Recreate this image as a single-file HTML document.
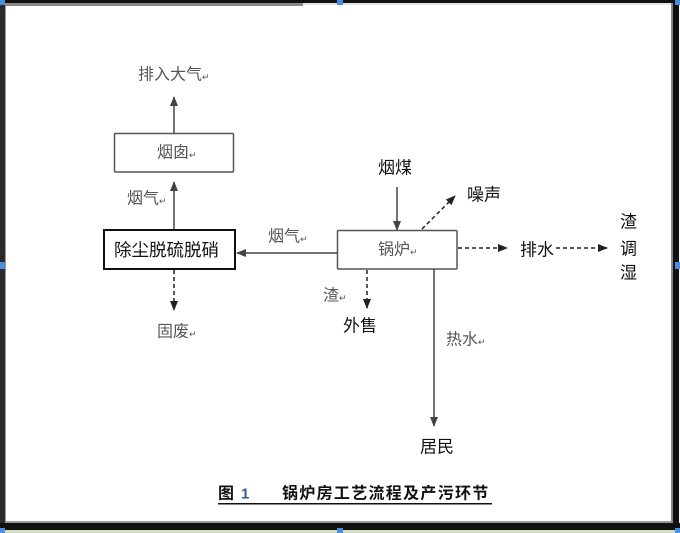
<!DOCTYPE html>
<html><head><meta charset="utf-8"><style>
html,body{margin:0;padding:0;background:#fff;}
svg{display:block;}
text{font-family:"Liberation Sans","Noto Sans CJK SC",sans-serif;}
</style></head><body>
<svg width="680" height="533" viewBox="0 0 680 533" xmlns="http://www.w3.org/2000/svg">
<defs>
<marker id="ah" markerWidth="10" markerHeight="8" refX="9" refY="4" orient="auto" markerUnits="userSpaceOnUse">
<path d="M0,0 L10,4 L0,8 Z" fill="#222"/>
</marker>
<marker id="ahg" markerWidth="10" markerHeight="8" refX="9" refY="4" orient="auto" markerUnits="userSpaceOnUse">
<path d="M0,0 L10,4 L0,8 Z" fill="#444"/>
</marker>
</defs>
<rect x="0" y="0" width="680" height="533" fill="#fff"/>
<!-- frame -->
<rect x="0" y="0" width="680" height="3" fill="#111"/>
<rect x="0" y="3" width="303" height="3" fill="#888"/>
<rect x="303" y="3" width="377" height="2" fill="#e4e4e4"/>
<rect x="0" y="0" width="5" height="530" fill="#2a2a2a"/>
<rect x="5" y="6" width="1" height="517" fill="#999"/>
<rect x="671" y="3" width="2" height="520" fill="#888"/>
<rect x="673" y="0" width="6" height="530" fill="#111"/>
<rect x="5" y="521" width="668" height="2" fill="#999"/>
<rect x="0" y="523" width="680" height="7" fill="#111"/>
<rect x="0" y="530" width="680" height="3" fill="#cfe3c0"/>
<!-- handles -->
<g fill="#4a8ee0">
<rect x="0" y="0" width="5" height="5"/>
<rect x="337" y="0" width="6" height="5"/>
<rect x="675" y="0" width="5" height="5"/>
<rect x="0" y="262" width="5" height="7"/>
<rect x="675" y="262" width="5" height="7"/>
<rect x="0" y="528" width="5" height="5"/>
<rect x="337" y="528" width="6" height="5"/>
<rect x="675" y="528" width="5" height="5"/>
</g>

<!-- boxes -->
<rect x="114.5" y="133.5" width="119" height="38.5" fill="#fff" stroke="#555" stroke-width="1.5" rx="1"/>
<rect x="104" y="230" width="131" height="39" fill="#fff" stroke="#111" stroke-width="2"/>
<rect x="337.5" y="230.5" width="119.5" height="38.5" fill="#fff" stroke="#555" stroke-width="1.5" rx="1"/>

<!-- connectors -->
<g stroke="#444" stroke-width="1.5" fill="none">
<line x1="174" y1="133" x2="174" y2="97" marker-end="url(#ahg)"/>
<line x1="174" y1="229" x2="174" y2="182" marker-end="url(#ahg)"/>
<line x1="337" y1="253" x2="237" y2="253" marker-end="url(#ahg)"/>
<line x1="397" y1="187" x2="397" y2="230" marker-end="url(#ahg)"/>
<line x1="434" y1="269" x2="434" y2="426" marker-end="url(#ahg)"/>
</g>
<g stroke="#222" stroke-width="1.5" fill="none" stroke-dasharray="4,3">
<line x1="174" y1="270" x2="174" y2="310" marker-end="url(#ah)"/>
<line x1="367" y1="270" x2="367" y2="308" marker-end="url(#ah)"/>
<line x1="422" y1="229" x2="455" y2="196" marker-end="url(#ah)"/>
<line x1="458" y1="248" x2="507" y2="248" marker-end="url(#ah)"/>
<line x1="556" y1="248" x2="607" y2="248" marker-end="url(#ah)"/>
</g>

<!-- gray labels -->
<g fill="#555" font-size="16" dominant-baseline="central">
<text x="138" y="75">排入大气<tspan font-size="9" dy="2">↵</tspan></text>
<text x="157" y="153">烟囱<tspan font-size="9" dy="2">↵</tspan></text>
<text x="127" y="199">烟气<tspan font-size="9" dy="2">↵</tspan></text>
<text x="157" y="332">固废<tspan font-size="9" dy="2">↵</tspan></text>
<text x="268" y="237">烟气<tspan font-size="9" dy="2">↵</tspan></text>
<text x="378" y="250">锅炉<tspan font-size="9" dy="2">↵</tspan></text>
<text x="323" y="296">渣<tspan font-size="9" dy="2">↵</tspan></text>
<text x="446" y="340">热水<tspan font-size="9" dy="2">↵</tspan></text>
</g>
<!-- black labels -->
<g fill="#111" font-size="17" dominant-baseline="central">
<text x="114" y="250" font-size="17.5">除尘脱硫脱硝</text>
<text x="343" y="326">外售</text>
<text x="420" y="447">居民</text>
<text x="378" y="168">烟煤</text>
<text x="467" y="195">噪声</text>
<text x="520" y="250">排水</text>
<text x="620" y="222">渣</text>
<text x="620" y="249">调</text>
<text x="620" y="273">湿</text>
</g>
<!-- caption -->
<g fill="#111" font-size="16" font-weight="bold" dominant-baseline="central">
<text x="218" y="494">图</text>
<text x="241" y="494" fill="#3a5a90" font-family="Liberation Serif, serif" font-size="15">1</text>
<text x="282" y="494" letter-spacing="1.3">锅炉房工艺流程及产污环节</text>
</g>
<rect x="218" y="503" width="274" height="1.5" fill="#111"/>
</svg>
</body></html>
